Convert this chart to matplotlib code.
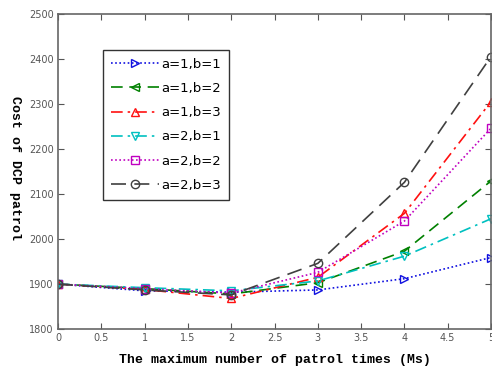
import matplotlib
matplotlib.use("Agg")
import matplotlib.pyplot as plt

x = [0, 1, 2, 3, 4, 5]
labels = ["a=1,b=1", "a=1,b=2", "a=1,b=3", "a=2,b=1", "a=2,b=2", "a=2,b=3"]
s11 = [1900, 1885, 1882, 1887, 1912, 1959]
s12 = [1900, 1890, 1878, 1903, 1973, 2129]
s13 = [1900, 1888, 1868, 1915, 2057, 2305]
s21 = [1900, 1892, 1885, 1907, 1962, 2045]
s22 = [1900, 1890, 1880, 1926, 2040, 2246]
s23 = [1900, 1887, 1876, 1946, 2126, 2405]
xticks = [0, 0.5, 1, 1.5, 2, 2.5, 3, 3.5, 4, 4.5, 5]
xticklabels = ["0", "0.5", "1", "1.5", "2", "2.5", "3", "3.5", "4", "4.5", "5"]
yticks = [1800, 1900, 2000, 2100, 2200, 2300, 2400, 2500]

series = [s11, s12, s13, s21, s22, s23]
colors = ["#1010e0", "#008000", "#ff1010", "#00c0c0", "#c000c0", "#404040"]
styles = [(0, (1, 1.5)), (0, (7, 4)), (0, (7, 3, 1.5, 3)), (0, (7, 3, 1.5, 3)), (0, (1, 1.5)), (0, (9, 5))]
markers = [">", "<", "^", "v", "s", "o"]

fig = plt.figure(figsize=(4.92, 3.74), dpi=100)
ax = fig.add_axes([0.118, 0.12, 0.880, 0.843])
for ys, c, ls, m, lab in zip(series, colors, styles, markers, labels):
    ax.plot(x, ys, color=c, linestyle=ls, marker=m, markersize=6,
            markerfacecolor="none", markeredgecolor=c, linewidth=1.2, label=lab)

ax.set_xlim(0, 5)
ax.set_ylim(1800, 2500)
ax.set_xticks(xticks)
ax.set_xticklabels(xticklabels)
ax.set_yticks(yticks)
ax.tick_params(direction="in", top=True, right=True, labelsize=7, colors="#555555", length=4, pad=3)
for sp in ax.spines.values():
    sp.set_color("#666666")
    sp.set_linewidth(1.2)

lab_font = dict(family="Liberation Mono", weight="bold", size=9.5)
ax.set_xlabel("The maximum number of patrol times (Ms)", fontdict=lab_font, labelpad=8)
fig.text(15 / 492, 1 - 168 / 374, "Cost of DCP patrol", rotation=-90,
         ha="center", va="center", **lab_font)

leg = ax.legend(loc="upper left", bbox_to_anchor=(0.104, 0.886), fontsize=9.5,
                frameon=True, fancybox=False, edgecolor="black", handlelength=3.6,
                borderpad=0.6, labelspacing=0.85, handletextpad=0.2, borderaxespad=0)
leg.get_frame().set_linewidth(1.0)

fig.savefig("out.png", dpi=100)
